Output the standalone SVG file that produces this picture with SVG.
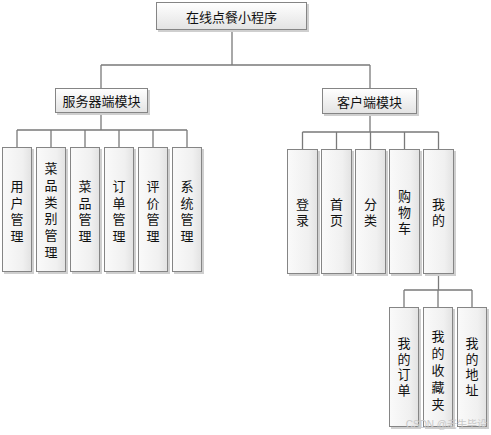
<svg xmlns="http://www.w3.org/2000/svg" width="491" height="435" viewBox="0 0 491 435">
<defs>
<linearGradient id="g" x1="0" y1="0" x2="0" y2="1">
<stop offset="0" stop-color="#ffffff"/>
<stop offset="1" stop-color="#e3e3e3"/>
</linearGradient>
<linearGradient id="gv" x1="0" y1="0" x2="1" y2="0">
<stop offset="0" stop-color="#fafafa"/>
<stop offset="0.7" stop-color="#f0f0f0"/>
<stop offset="1" stop-color="#e2e2e2"/>
</linearGradient>
</defs>
<style>
.sh{fill:#cfcfcf}
.b{fill:url(#g);stroke:#858585;stroke-width:1}
.bv{fill:url(#gv);stroke:#858585;stroke-width:1}
.t{font-family:"Noto Sans CJK SC","Noto Sans",sans-serif;font-size:13px;fill:#111;text-anchor:middle;dominant-baseline:central}
.c{fill:none;stroke:#7a7a7a;stroke-width:1.3}
.wm{font-family:"Liberation Sans","Noto Sans CJK SC",sans-serif;font-size:10px;fill:#c8c8c8;text-anchor:end}
</style>
<g id="connectors">
<path class="c" d="M232 30V65M101 65H370M101 65V88M370 65V88"/>
<path class="c" d="M101 113V130M17 130H187M17 130V147M51 130V147M85 130V147M119 130V147M153 130V147M187 130V147"/>
<path class="c" d="M370 114V132M302.5 132H438.5M302.5 132V149M336.5 132V149M370.5 132V149M404.5 132V149M438.5 132V149"/>
<path class="c" d="M438.5 274V290M404 290H472M404 290V307M438 290V307M472 290V307"/>
</g>
<g id="root"><rect class="sh" x="158" y="4" width="151" height="28"/><rect class="b" x="156.5" y="2.5" width="150" height="27"/><text class="t" x="231.5" y="16">在线点餐小程序</text></g>
<g id="server"><rect class="sh" x="57" y="90" width="93" height="25"/><rect class="b" x="55.5" y="88.5" width="92" height="24"/><text class="t" x="101.5" y="100.5">服务器端模块</text></g>
<g id="client"><rect class="sh" x="324" y="90" width="95" height="26"/><rect class="b" x="322.5" y="88.5" width="94" height="25"/><text class="t" x="369.5" y="101">客户端模块</text></g>

<g id="s1"><rect class="sh" x="4" y="149" width="30" height="125"/><rect class="bv" x="2.5" y="147.5" width="29" height="124"/><text class="t"><tspan x="17" y="185">用</tspan><tspan x="17" y="201.5">户</tspan><tspan x="17" y="218">管</tspan><tspan x="17" y="234.5">理</tspan></text></g>
<g id="s2"><rect class="sh" x="38" y="149" width="30" height="125"/><rect class="bv" x="36.5" y="147.5" width="29" height="124"/><text class="t"><tspan x="51" y="167">菜</tspan><tspan x="51" y="183.8">品</tspan><tspan x="51" y="200.6">类</tspan><tspan x="51" y="217.4">别</tspan><tspan x="51" y="234.2">管</tspan><tspan x="51" y="251">理</tspan></text></g>
<g id="s3"><rect class="sh" x="72" y="149" width="30" height="125"/><rect class="bv" x="70.5" y="147.5" width="29" height="124"/><text class="t"><tspan x="85" y="185">菜</tspan><tspan x="85" y="201.5">品</tspan><tspan x="85" y="218">管</tspan><tspan x="85" y="234.5">理</tspan></text></g>
<g id="s4"><rect class="sh" x="106" y="149" width="30" height="125"/><rect class="bv" x="104.5" y="147.5" width="29" height="124"/><text class="t"><tspan x="119" y="185">订</tspan><tspan x="119" y="201.5">单</tspan><tspan x="119" y="218">管</tspan><tspan x="119" y="234.5">理</tspan></text></g>
<g id="s5"><rect class="sh" x="140" y="149" width="30" height="125"/><rect class="bv" x="138.5" y="147.5" width="29" height="124"/><text class="t"><tspan x="153" y="185">评</tspan><tspan x="153" y="201.5">价</tspan><tspan x="153" y="218">管</tspan><tspan x="153" y="234.5">理</tspan></text></g>
<g id="s6"><rect class="sh" x="174" y="149" width="30" height="125"/><rect class="bv" x="172.5" y="147.5" width="29" height="124"/><text class="t"><tspan x="187" y="185">系</tspan><tspan x="187" y="201.5">统</tspan><tspan x="187" y="218">管</tspan><tspan x="187" y="234.5">理</tspan></text></g>

<g id="c1"><rect class="sh" x="289" y="151" width="31" height="125"/><rect class="bv" x="287.5" y="149.5" width="30" height="124"/><text class="t"><tspan x="302.5" y="203">登</tspan><tspan x="302.5" y="219">录</tspan></text></g>
<g id="c2"><rect class="sh" x="323" y="151" width="31" height="125"/><rect class="bv" x="321.5" y="149.5" width="30" height="124"/><text class="t"><tspan x="336.5" y="203">首</tspan><tspan x="336.5" y="219">页</tspan></text></g>
<g id="c3"><rect class="sh" x="357" y="151" width="31" height="125"/><rect class="bv" x="355.5" y="149.5" width="30" height="124"/><text class="t"><tspan x="370.5" y="203">分</tspan><tspan x="370.5" y="219">类</tspan></text></g>
<g id="c4"><rect class="sh" x="391" y="151" width="31" height="125"/><rect class="bv" x="389.5" y="149.5" width="30" height="124"/><text class="t"><tspan x="404.5" y="195">购</tspan><tspan x="404.5" y="211">物</tspan><tspan x="404.5" y="227">车</tspan></text></g>
<g id="c5"><rect class="sh" x="425" y="151" width="31" height="125"/><rect class="bv" x="423.5" y="149.5" width="30" height="124"/><text class="t"><tspan x="438.5" y="203">我</tspan><tspan x="438.5" y="219">的</tspan></text></g>

<g id="m1"><rect class="sh" x="391" y="309" width="30" height="120"/><rect class="bv" x="389.5" y="307.5" width="29" height="119"/><text class="t"><tspan x="404" y="342">我</tspan><tspan x="404" y="357.5">的</tspan><tspan x="404" y="373">订</tspan><tspan x="404" y="388.5">单</tspan></text></g>
<g id="m2"><rect class="sh" x="425" y="309" width="30" height="120"/><rect class="bv" x="423.5" y="307.5" width="29" height="119"/><text class="t"><tspan x="438" y="335">我</tspan><tspan x="438" y="352">的</tspan><tspan x="438" y="369">收</tspan><tspan x="438" y="386">藏</tspan><tspan x="438" y="403">夹</tspan></text></g>
<g id="m3"><rect class="sh" x="459" y="309" width="30" height="120"/><rect class="bv" x="457.5" y="307.5" width="29" height="119"/><text class="t"><tspan x="472" y="342">我</tspan><tspan x="472" y="357.5">的</tspan><tspan x="472" y="373">地</tspan><tspan x="472" y="388.5">址</tspan></text></g>
<text class="wm" x="487" y="428">CSDN @老牛毕设</text>
</svg>
